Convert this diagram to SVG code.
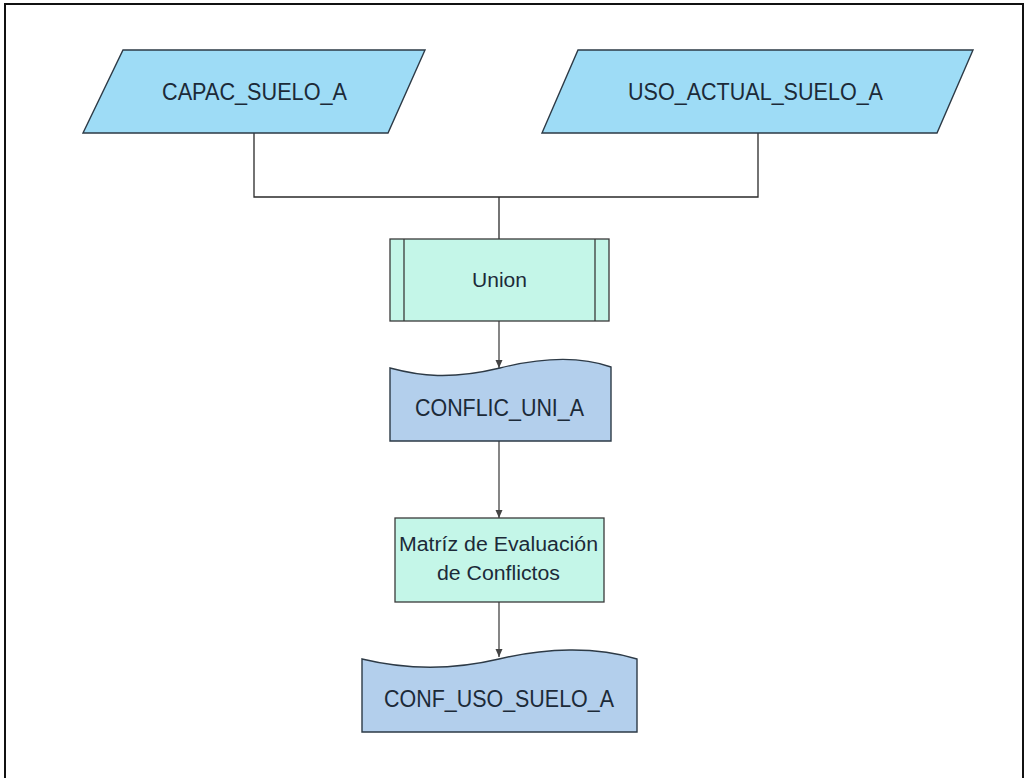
<svg xmlns="http://www.w3.org/2000/svg" width="1025" height="778" viewBox="0 0 1025 778">
<style>
.txt{font-family:"Liberation Sans",Arial,sans-serif;fill:#1c2a38;text-anchor:middle}
.para{fill:#9edcf6;stroke:#2d3a46;stroke-width:1.4}
.proc{fill:#c4f6e8;stroke:#3a3a3a;stroke-width:1.3}
.doc{fill:#b3cfec;stroke:#2d3a46;stroke-width:1.4}
.conn{fill:none;stroke:#2a2a2a;stroke-width:1.3}
.arr{fill:none;stroke:#444;stroke-width:1.3;marker-end:url(#ah)}
</style>
<defs>
<marker id="ah" markerWidth="8" markerHeight="8" refX="8" refY="4" orient="auto" markerUnits="userSpaceOnUse">
<path d="M0,0.5 L8,4 L0,7.5 Z" fill="#444"/>
</marker>
</defs>
<rect x="0" y="0" width="1025" height="778" fill="#fff"/>
<rect x="5" y="4" width="1018" height="800" fill="none" stroke="#111" stroke-width="2"/>
<g id="connectors">
<polyline class="conn" points="254,133 254,197 758,197 758,133"/>
<line class="conn" x1="499" y1="197" x2="499" y2="239"/>
<line class="arr" x1="499" y1="321" x2="499" y2="368"/>
<line class="arr" x1="499" y1="441" x2="499" y2="518"/>
<line class="arr" x1="499" y1="602" x2="499" y2="657"/>
</g>
<g id="capac">
<polygon class="para" points="123,50 425,50 388,133 83,133"/>
<text class="txt" x="254.5" y="99.5" font-size="23.5" textLength="185" lengthAdjust="spacingAndGlyphs">CAPAC_SUELO_A</text>
</g>
<g id="uso">
<polygon class="para" points="578,50 973,50 937,133 542,133"/>
<text class="txt" x="755.5" y="99.5" font-size="23.5" textLength="255" lengthAdjust="spacingAndGlyphs">USO_ACTUAL_SUELO_A</text>
</g>
<g id="union">
<rect class="proc" x="390" y="239" width="219" height="82"/>
<line class="proc" x1="404" y1="239" x2="404" y2="321"/>
<line class="proc" x1="595" y1="239" x2="595" y2="321"/>
<text class="txt" x="499.5" y="287" font-size="21" textLength="55" lengthAdjust="spacingAndGlyphs">Union</text>
</g>
<g id="conflic">
<path class="doc" d="M390,368 C420,376 450,380 500,368 C540,358 580,356 611,367 L611,441 L390,441 Z"/>
<text class="txt" x="499.5" y="416" font-size="24" textLength="169" lengthAdjust="spacingAndGlyphs">CONFLIC_UNI_A</text>
</g>
<g id="matriz">
<rect class="proc" x="395" y="518" width="209" height="84"/>
<text class="txt" x="498.5" y="551" font-size="20" textLength="199" lengthAdjust="spacingAndGlyphs">Matríz de Evaluación</text>
<text class="txt" x="498.5" y="580" font-size="20" textLength="123" lengthAdjust="spacingAndGlyphs">de Conflictos</text>
</g>
<g id="confuso">
<path class="doc" d="M362,659 C395,667 440,673 499,659 C545,648 595,646 637,659 L637,732 L362,732 Z"/>
<text class="txt" x="499" y="707" font-size="24" textLength="230" lengthAdjust="spacingAndGlyphs">CONF_USO_SUELO_A</text>
</g>
</svg>
